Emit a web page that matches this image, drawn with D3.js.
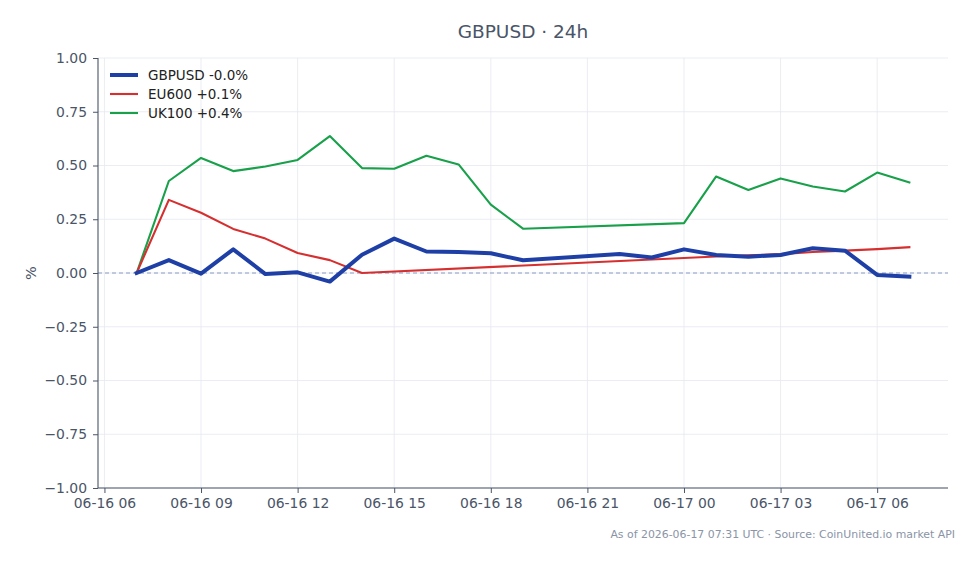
<!DOCTYPE html>
<html><head><meta charset="utf-8">
<script src="https://cdn.jsdelivr.net/npm/d3@7"></script>
<style>body{margin:0;background:#fff}svg{display:block}</style>
</head><body>
<script>
// Data (hour offsets from 2026-06-16 00:00 UTC)
const gbpHours = [7,8,9,10,11,12,13,14,15,16,17,18,19,22,23,24,25,26,27,28,29,30,31];
const gbpValues = [0,0.06,-0.003,0.11,-0.005,0.003,-0.04,0.085,0.16,0.10,0.098,0.092,0.059,0.088,0.072,0.11,0.084,0.076,0.084,0.115,0.104,-0.009,-0.017];
const euHours = [7,8,9,10,11,12,13,14,24,25,26,27,28,29,30,31];
const euValues = [0,0.34,0.28,0.205,0.16,0.093,0.06,0.0,0.07,0.077,0.082,0.088,0.098,0.104,0.111,0.12];
const ukHours = [7,8,9,10,11,12,13,14,15,16,17,18,19,24,25,26,27,28,29,30,31];
const ukValues = [0,0.428,0.535,0.474,0.495,0.526,0.637,0.488,0.485,0.545,0.505,0.318,0.206,0.232,0.449,0.386,0.44,0.402,0.379,0.467,0.421];
const seriesNames = ["GBPUSD -0.0%","EU600 +0.1%","UK100 +0.4%"];
const seriesColors = ["#1e3fa6","#d62f2f","#18a04a"];
const seriesWidths = [4,2.1,2.1];
const xTickHours = [6,9,12,15,18,21,24,27,30];
const xTickLabels = ["06-16 06","06-16 09","06-16 12","06-16 15","06-16 18","06-16 21","06-17 00","06-17 03","06-17 06"];
const yTicks = [-1,-0.75,-0.5,-0.25,0,0.25,0.5,0.75,1];

const W=979,H=564;
const m={l:98,r:948,t:58,b:488};
const svg=d3.select("body").append("svg").attr("width",W).attr("height",H)
  .style("font-family","'DejaVu Sans', sans-serif");

const x=d3.scaleLinear().domain([5.8,32.2]).range([m.l,m.r]);
const y=d3.scaleLinear().domain([-1,1]).range([m.b,m.t]);

// grid
const grid=svg.append("g");
grid.selectAll(".vg").data(xTickHours).join("line")
  .attr("x1",d=>x(d)).attr("x2",d=>x(d)).attr("y1",m.t).attr("y2",m.b)
  .attr("stroke","#e6e9f0").attr("stroke-width",0.8);
grid.selectAll(".hg").data(yTicks).join("line")
  .attr("x1",m.l).attr("x2",m.r).attr("y1",d=>y(d)).attr("y2",d=>y(d))
  .attr("stroke","#e6e9f0").attr("stroke-width",0.8);

// zero line
svg.append("line").attr("x1",m.l).attr("x2",m.r).attr("y1",y(0)).attr("y2",y(0))
  .attr("stroke","#8a9cc4").attr("stroke-width",1).attr("stroke-dasharray","4,3");

// lines
const allSeries=[[gbpHours,gbpValues],[euHours,euValues],[ukHours,ukValues]];
const line=d3.line().x(d=>x(d[0])).y(d=>y(d[1]));
[2,1,0].forEach(i=>{
  const [hs,vs]=allSeries[i];
  svg.append("path").datum(hs.map((h,j)=>[h,vs[j]]))
    .attr("d",line).attr("fill","none").attr("stroke",seriesColors[i])
    .attr("stroke-width",seriesWidths[i]).attr("stroke-linejoin","round").attr("stroke-linecap","square");
});

// axes
const fmt=d=>d3.format(".2f")(d).replace("-","\u2212");
const yAxis=svg.append("g").attr("transform",`translate(${m.l},0)`)
  .call(d3.axisLeft(y).tickValues(yTicks).tickFormat(fmt).tickSize(5).tickPadding(6));
const xAxis=svg.append("g").attr("transform",`translate(0,${m.b})`)
  .call(d3.axisBottom(x).tickValues(xTickHours).tickFormat((d,i)=>xTickLabels[i]).tickSize(5).tickPadding(5));
[yAxis,xAxis].forEach(a=>{
  a.select(".domain").attr("stroke","#4a5568").attr("stroke-width",1.1);
  a.selectAll(".tick line").attr("stroke","#4a5568");
  a.selectAll(".tick text").attr("fill","#4a5568").style("font-size","13.9px").style("font-family","'DejaVu Sans', sans-serif");
});
yAxis.select(".domain").attr("d",`M-0,${m.t}H0V${m.b}H-0`);
xAxis.select(".domain").attr("d",`M${m.l},0V0H${m.r}V0`);

// y label
svg.append("text").attr("transform",`translate(36,${y(0)}) rotate(-90)`)
  .attr("text-anchor","middle").attr("fill","#4a5568").style("font-size","14.5px").text("%");

// title
svg.append("text").attr("x",(m.l+m.r)/2).attr("y",38).attr("text-anchor","middle")
  .attr("fill","#4a5568").style("font-size","18.5px").text("GBPUSD \u00b7 24h");

// legend
const lg=svg.append("g");
seriesNames.forEach((n,i)=>{
  const yy=75+i*19;
  lg.append("line").attr("x1",110).attr("x2",138).attr("y1",yy).attr("y2",yy)
    .attr("stroke",seriesColors[i]).attr("stroke-width",seriesWidths[i]);
  lg.append("text").attr("x",148).attr("y",yy+4.7).attr("fill","#222")
    .style("font-size","13.5px").text(n);
});

// footer
svg.append("text").attr("x",955).attr("y",538).attr("text-anchor","end")
  .attr("fill","#8a94a6").style("font-size","10.9px")
  .text("As of 2026-06-17 07:31 UTC \u00b7 Source: CoinUnited.io market API");
</script>
</body></html>
